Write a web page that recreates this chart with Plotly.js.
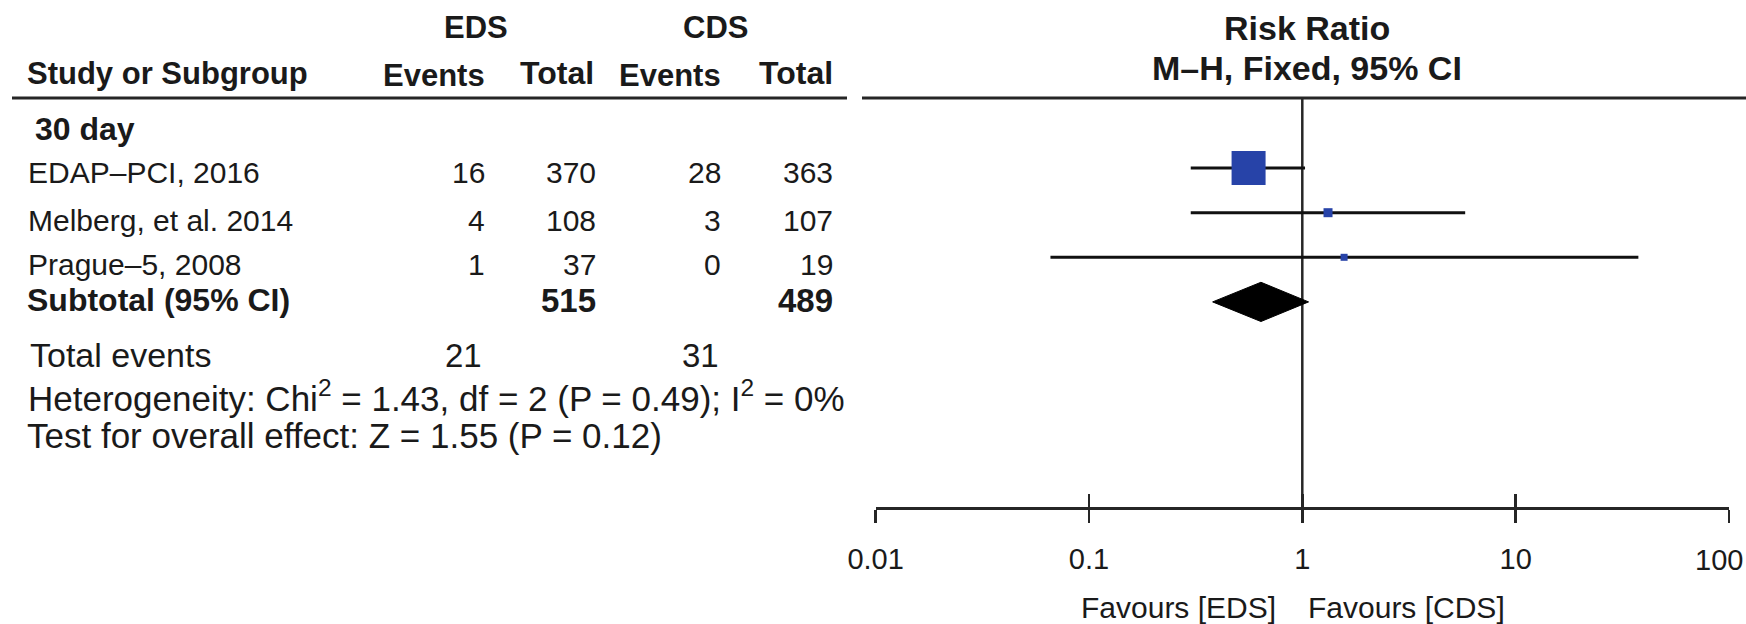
<!DOCTYPE html>
<html>
<head>
<meta charset="utf-8">
<script src="https://cdn.plot.ly/plotly-3.0.1.min.js"></script>
<style>html,body{margin:0;padding:0;background:#fff;}#chart{width:1746px;height:624px;}</style>
</head>
<body>
<div id="chart"></div>
<script>
// ---------------- data ----------------
const subgroup = '30 day';
const studies = ['EDAP–PCI, 2016', 'Melberg, et al. 2014', 'Prague–5, 2008'];
const edsEvents = [16, 4, 1];
const edsTotal = [370, 108, 37];
const cdsEvents = [28, 3, 0];
const cdsTotal = [363, 107, 19];
const riskRatio = [0.56, 1.32, 1.57];
const ciLow = [0.30, 0.30, 0.066];
const ciHigh = [1.03, 5.8, 37.6];
const subtotalLabel = 'Subtotal (95% CI)';
const subtotalEds = 515;
const subtotalCds = 489;
const pooledRR = 0.64;
const pooledLow = 0.38;
const pooledHigh = 1.07;
const totalEventsEds = 21;
const totalEventsCds = 31;
const heterogeneityText = 'Heterogeneity: Chi<sup>2</sup> = 1.43, df = 2 (P = 0.49); I<sup>2</sup> = 0%';
const overallText = 'Test for overall effect: Z = 1.55 (P = 0.12)';
const tickVals = [0.01, 0.1, 1, 10, 100];
const tickText = ['0.01', '0.1', '1', '10', '100'];
const favourLeft = 'Favours [EDS]';
const favourRight = 'Favours [CDS]';

// ---------------- style ----------------
const W = 1746, H = 624;
const FONT = 'Liberation Sans, Arial, Helvetica, sans-serif';
const TXT = '#1a1a1a';
const LINE = '#262626';
const BLUE = '#2743a8';
const px2x = p => p / W;
const px2y = p => 1 - p / H;

function ann(text, xpx, ypx, anchor, size, bold) {
  return {
    xref: 'paper', yref: 'paper', x: px2x(xpx), y: px2y(ypx),
    xanchor: anchor, yanchor: 'middle', showarrow: false, borderpad: 0,
    text: bold ? '<b>' + text + '</b>' : text,
    font: {family: FONT, size: size, color: TXT}
  };
}

// column right edges (px) and row centres (px)
const colEdsEv = 486, colEdsTot = 597, colCdsEv = 722, colCdsTot = 834;
const rowY = [172, 220, 264];

const annotations = [];
// header
annotations.push(ann('EDS', 476, 28, 'center', 31, true));
annotations.push(ann('CDS', 715, 28, 'center', 31, true));
annotations.push(ann('Study or Subgroup', 26, 73, 'left', 31, true));
annotations.push(ann('Events', colEdsEv, 75, 'right', 31, true));
annotations.push(ann('Total', colEdsTot - 2, 73, 'right', 32, true));
annotations.push(ann('Events', colCdsEv, 75, 'right', 31, true));
annotations.push(ann('Total', colCdsTot, 73, 'right', 32, true));
annotations.push(ann('Risk Ratio', 1307, 28, 'center', 34, true));
annotations.push(ann('M–H, Fixed, 95% CI', 1307, 68, 'center', 34, true));
// subgroup
annotations.push(ann(subgroup, 34, 129, 'left', 32, true));
studies.forEach((s, i) => {
  annotations.push(ann(s, 27, rowY[i], 'left', 30, false));
  annotations.push(ann(String(edsEvents[i]), colEdsEv, rowY[i], 'right', 30, false));
  annotations.push(ann(String(edsTotal[i]), colEdsTot, rowY[i], 'right', 30, false));
  annotations.push(ann(String(cdsEvents[i]), colCdsEv, rowY[i], 'right', 30, false));
  annotations.push(ann(String(cdsTotal[i]), colCdsTot, rowY[i], 'right', 30, false));
});
annotations.push(ann(subtotalLabel, 26, 300, 'left', 32, true));
annotations.push(ann(String(subtotalEds), colEdsTot, 300, 'right', 33, true));
annotations.push(ann(String(subtotalCds), colCdsTot, 300, 'right', 33, true));
annotations.push(ann('Total events', 29, 355, 'left', 34, false));
annotations.push(ann(String(totalEventsEds), 483, 355, 'right', 33, false));
annotations.push(ann(String(totalEventsCds), 720, 355, 'right', 33, false));
annotations.push(ann(heterogeneityText, 27, 396, 'left', 35, false));
annotations.push(ann(overallText, 26, 435, 'left', 35, false));
annotations.push(ann(favourLeft, 1277, 607, 'right', 30, false));
annotations.push(ann(favourRight, 1307, 607, 'left', 30, false));
// last tick label, pulled inside the page edge
annotations.push({
  xref: 'x', yref: 'paper', x: Math.log10(tickVals[tickVals.length - 1]), y: px2y(560),
  xanchor: 'center', yanchor: 'middle', xshift: -10, showarrow: false, borderpad: 0,
  text: tickText[tickText.length - 1], font: {family: FONT, size: 29, color: TXT}
});

// ---------------- traces ----------------
const rows = studies.map((_, i) => i + 1);
const pooledRow = studies.length + 1;
const halfH = 0.44;

const studyTrace = {
  type: 'scatter', mode: 'markers', xaxis: 'x', yaxis: 'y',
  x: riskRatio, y: rows,
  marker: {symbol: 'square', size: [34, 9, 7], color: BLUE, opacity: 1, line: {width: 0}},
  error_x: {
    type: 'data', symmetric: false,
    array: riskRatio.map((r, i) => ciHigh[i] - r),
    arrayminus: riskRatio.map((r, i) => r - ciLow[i]),
    color: '#111', thickness: 3, width: 0
  },
  hoverinfo: 'skip', cliponaxis: false
};

const diamondTrace = {
  type: 'scatter', mode: 'lines', xaxis: 'x', yaxis: 'y',
  x: [pooledLow, pooledRR, pooledHigh, pooledRR, pooledLow],
  y: [pooledRow, pooledRow - halfH, pooledRow, pooledRow + halfH, pooledRow],
  fill: 'toself', fillcolor: '#000', line: {color: '#000', width: 1},
  hoverinfo: 'skip'
};

const dummy = {type: 'scatter', mode: 'markers', xaxis: 'x2', yaxis: 'y', x: [1], y: [0],
  marker: {opacity: 0}, hoverinfo: 'skip'};

// ---------------- layout ----------------
const axisTop = 98, axisBottom = 507;
const rowPx0 = 123.5, rowStep = 44.6;
const yRange = [(axisBottom - rowPx0) / rowStep, (axisTop - rowPx0) / rowStep];
const xDomain = [875.6 / W, 1729 / W];

const layout = {
  width: W, height: H,
  margin: {l: 0, r: 0, t: 0, b: 0, pad: 0},
  paper_bgcolor: '#fff', plot_bgcolor: 'rgba(0,0,0,0)',
  showlegend: false,
  font: {family: FONT, color: TXT},
  xaxis: {
    type: 'log', range: [-2, 2], domain: xDomain, anchor: 'y',
    showline: true, linecolor: LINE, linewidth: 2.5,
    ticks: 'outside', ticklen: 13, tickwidth: 2.5, tickcolor: LINE,
    tickmode: 'array', tickvals: tickVals,
    ticktext: tickText.map((t, i) => i === tickText.length - 1 ? '' : t),
    tickfont: {family: FONT, size: 29, color: TXT},
    ticklabelstandoff: 12,
    showgrid: false, zeroline: false, fixedrange: true
  },
  xaxis2: {
    type: 'log', range: [-2, 2], domain: xDomain, anchor: 'y', overlaying: 'x',
    showline: false, ticks: 'inside', ticklen: 13, tickwidth: 2.5, tickcolor: LINE,
    tickmode: 'array', tickvals: tickVals, showticklabels: false,
    showgrid: false, zeroline: false, fixedrange: true
  },
  yaxis: {
    range: yRange, domain: [px2y(axisBottom), px2y(axisTop)],
    visible: false, showgrid: false, zeroline: false, fixedrange: true
  },
  shapes: [
    {type: 'line', xref: 'paper', yref: 'paper', x0: px2x(12), x1: px2x(847), y0: px2y(98), y1: px2y(98),
     line: {color: LINE, width: 3}},
    {type: 'line', xref: 'paper', yref: 'paper', x0: px2x(862), x1: 1, y0: px2y(98), y1: px2y(98),
     line: {color: LINE, width: 3}},
    {type: 'line', xref: 'x', yref: 'paper', x0: 1, x1: 1, y0: px2y(520), y1: px2y(98),
     line: {color: LINE, width: 2.5}, layer: 'below'}
  ],
  annotations: annotations
};

Plotly.newPlot('chart', [studyTrace, diamondTrace, dummy], layout, {displayModeBar: false, staticPlot: true});
</script>
</body>
</html>
